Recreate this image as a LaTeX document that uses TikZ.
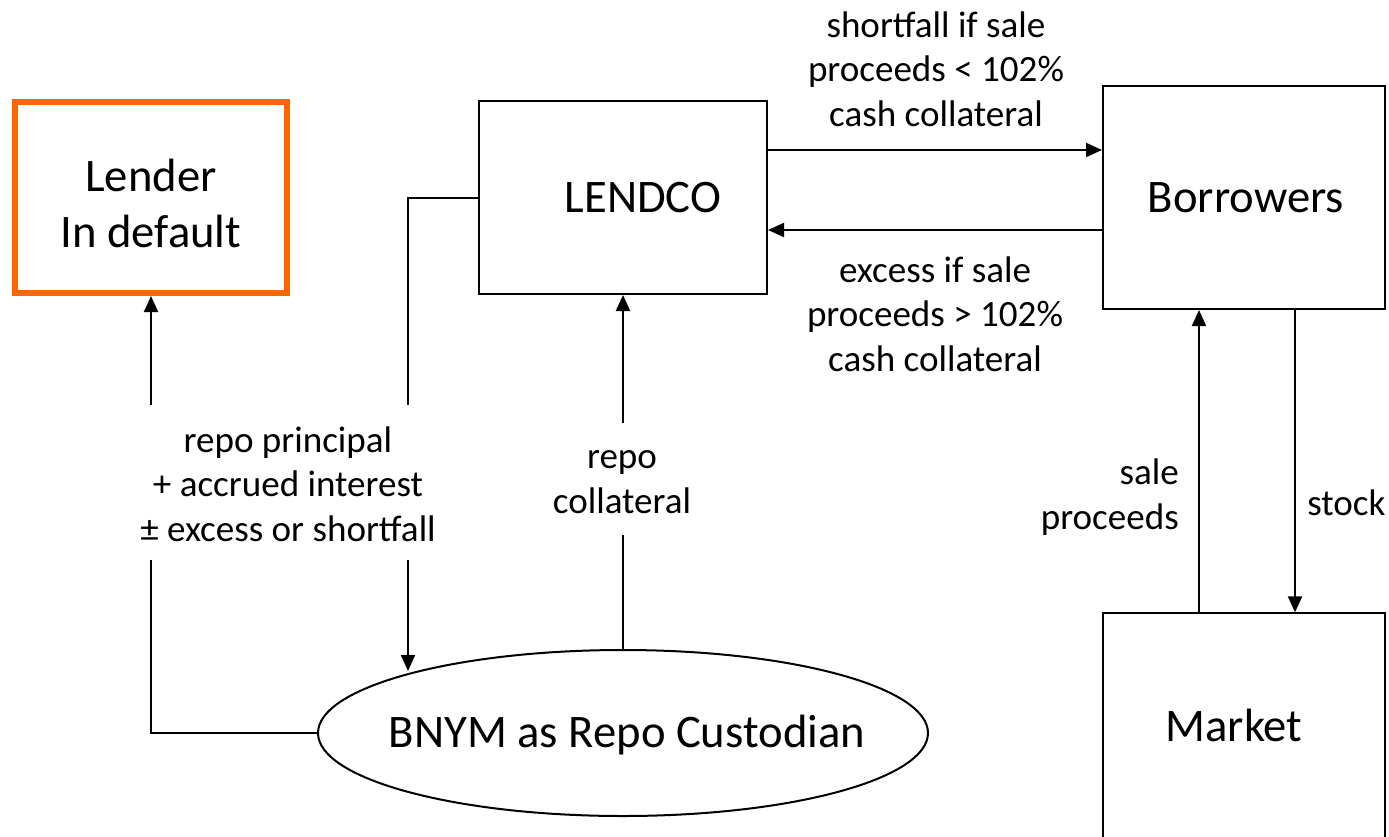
\documentclass[tikz,border=0pt]{standalone}
\usepackage{fontspec}
\setmainfont{Carlito}
\usetikzlibrary{shapes.geometric,arrows.meta}
\definecolor{defaultorange}{RGB}{255,102,0}
\begin{document}
\begin{tikzpicture}[x=0.75pt,y=-0.75pt,
  box/.style={draw=black,line width=1.5pt,inner sep=0pt,fill=none},
  bigtext/.style={font=\fontsize{35}{42}\selectfont,align=center,inner sep=0pt},
  smalltext/.style={font=\fontsize{27.8}{33.2}\selectfont,align=center,inner sep=0pt},
  link/.style={line width=1.5pt},
  arr/.style={line width=1.5pt,-{Triangle[length=12pt,width=10.5pt]}}]
\useasboundingbox (0,0) rectangle (1389,836);

% parties
\node[box,draw=defaultorange,line width=4.5pt,minimum width=204pt,minimum height=143.25pt] (lender) at (151,197.5) {};
\node[bigtext] (lendertext) at (151,203) {Lender\\In default};
\node[box,minimum width=216pt,minimum height=144.75pt] (lendco) at (623,197.5) {};
\node[bigtext] (lendcotext) at (643,198) {LENDCO};
\node[box,minimum width=211.5pt,minimum height=167.25pt] (borrowers) at (1244,197.5) {};
\node[bigtext] (borrowerstext) at (1246,198) {Borrowers};
\node[box,minimum width=211.5pt,minimum height=190pt] (market) at (1244,740) {};
\node[bigtext] (markettext) at (1234,725) {Market};
\node[box,ellipse,minimum width=457.5pt,minimum height=124.5pt] (bnym) at (623,733) {};
\node[bigtext] (bnymtext) at (627,735) {BNYM as Repo Custodian};

% LENDCO <-> Borrowers
\coordinate (rowa) at (900,150);
\coordinate (rowb) at (900,230);
\draw[arr] (rowa -| lendco.east) -- (rowa -| borrowers.west);
\draw[arr] (rowb -| borrowers.west) -- (rowb -| lendco.east);
\node[smalltext] (shortfall) at (936,69) {shortfall if sale\\proceeds < 102\%\\cash collateral};
\node[smalltext] (excess) at (935,314) {excess if sale\\proceeds > 102\%\\cash collateral};

% custodian -> lender in default
\coordinate (lgapa) at (151,560);
\coordinate (lgapb) at (151,405);
\draw[link] (bnym.west) -| (lgapa);
\draw[arr] (lgapb) -- (lender.south);
\node[smalltext] (payout) at (288,484) {repo principal\\+ accrued interest\\± excess or shortfall};

% LENDCO -> custodian
\coordinate (mgapa) at (408,405);
\coordinate (mgapb) at (408,560);
\coordinate (mtip) at (408,671);
\draw[link] (lendco.west) -| (mgapa);
\draw[arr] (mgapb) -- (mtip);

% custodian -> LENDCO
\coordinate (cgapa) at (623,535);
\coordinate (cgapb) at (623,423);
\draw[link] (bnym.north) -- (cgapa);
\draw[arr] (cgapb) -- (lendco.south);
\node[smalltext] (collateral) at (622,482) {repo\\collateral};

% Borrowers <-> Market
\coordinate (spx) at (1199,0);
\coordinate (stx) at (1295,0);
\draw[arr] (market.north -| spx) -- (borrowers.south -| spx);
\draw[arr] (borrowers.south -| stx) -- (market.north -| stx);
\node[smalltext,align=right,anchor=east] (saleproceeds) at (1179,497) {sale\\proceeds};
\node[smalltext,anchor=west] (stock) at (1307,503) {stock};
\end{tikzpicture}
\end{document}
